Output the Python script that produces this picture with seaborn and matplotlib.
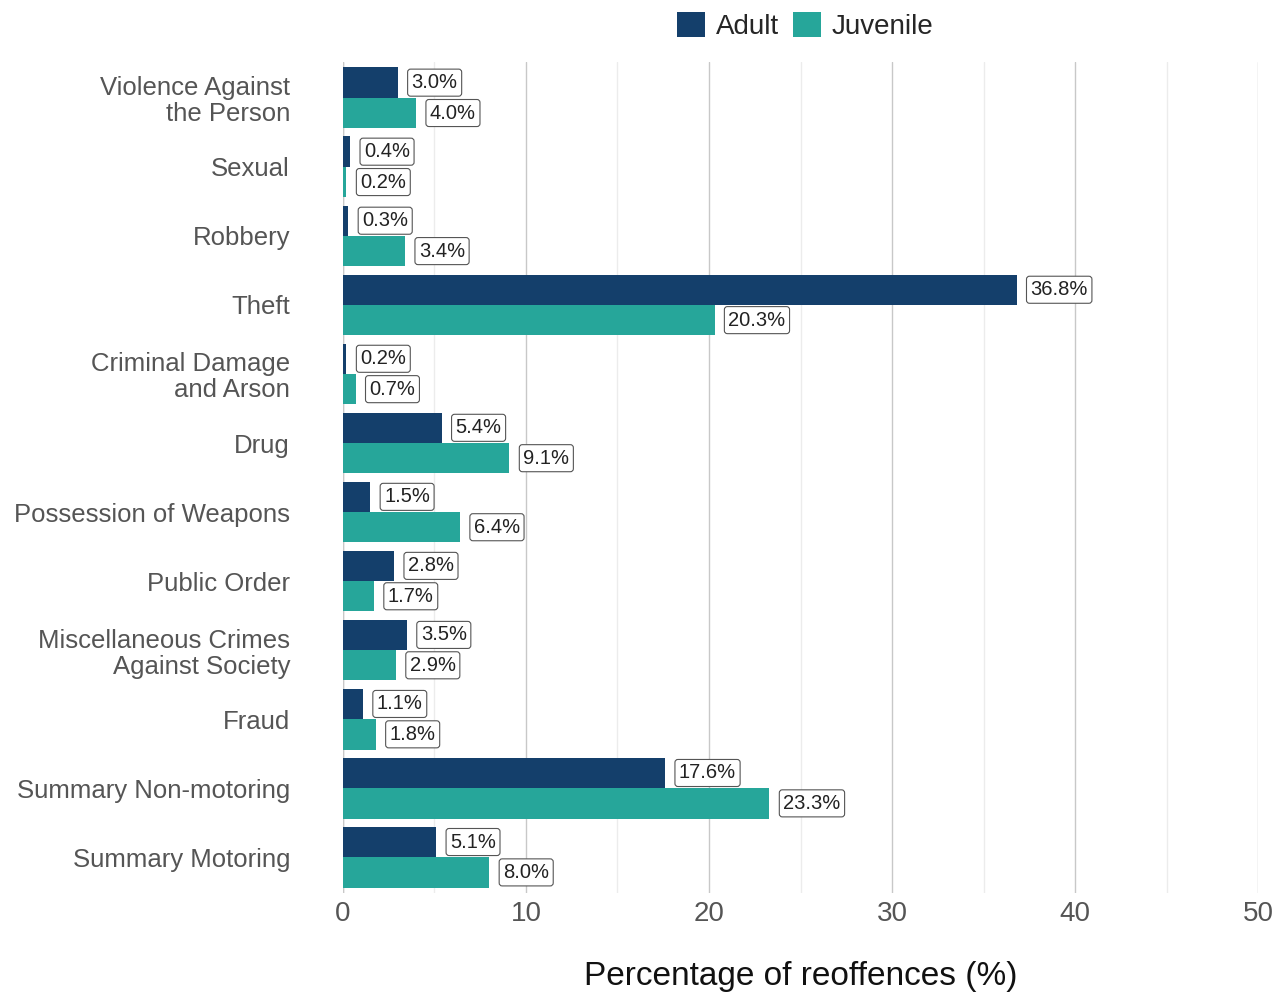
import matplotlib
matplotlib.use("Agg")
import matplotlib.pyplot as plt
import seaborn as sns
import pandas as pd
from matplotlib.ticker import MultipleLocator

categories = ["Violence Against\nthe Person", "Sexual", "Robbery", "Theft",
              "Criminal Damage\nand Arson", "Drug", "Possession of Weapons",
              "Public Order", "Miscellaneous Crimes\nAgainst Society", "Fraud",
              "Summary Non-motoring", "Summary Motoring"]
adult = [3.0, 0.4, 0.3, 36.8, 0.2, 5.4, 1.5, 2.8, 3.5, 1.1, 17.6, 5.1]
juvenile = [4.0, 0.2, 3.4, 20.3, 0.7, 9.1, 6.4, 1.7, 2.9, 1.8, 23.3, 8.0]
groups = ["Adult", "Juvenile"]
colors = ["#143f6b", "#26a69a"]

df = pd.DataFrame({
    "cat": categories * 2,
    "val": adult + juvenile,
    "grp": ["Adult"] * len(adult) + ["Juvenile"] * len(juvenile),
})

sns.set_theme(style="white")
plt.rcParams['font.family'] = ['Liberation Sans', 'DejaVu Sans']
fig = plt.figure(figsize=(12.84, 9.99), dpi=100)
ax = fig.add_axes([0.267, 0.106, 0.713, 0.832])
sns.barplot(data=df, y="cat", x="val", hue="grp", palette=colors,
            hue_order=groups, order=categories, orient="h", width=0.88,
            saturation=1, ax=ax, legend=True, linewidth=0)
ax.set_xlim(0, 50)
ax.set_ylim(11.52, -0.52)
ax.xaxis.set_major_locator(MultipleLocator(10))
ax.xaxis.set_minor_locator(MultipleLocator(5))
ax.grid(axis="x", which="major", color="#c8c8c8", lw=1)
ax.grid(axis="x", which="minor", color="#ececec", lw=1)
ax.set_axisbelow(True)
for s in ax.spines.values():
    s.set_visible(False)
ax.axvline(0, color="#c8c8c8", lw=1, zorder=0)
ax.tick_params(axis="y", length=0, labelsize=18.5, labelcolor="#555555", pad=38)
for t in ax.get_yticklabels():
    t.set_horizontalalignment("right")
    t.set_linespacing(1.1)
ax.tick_params(axis="x", length=0, labelsize=20, labelcolor="#555555", pad=6)
ax.set_ylabel("")
ax.set_xlabel("Percentage of reoffences (%)", fontsize=24, color="#111111", labelpad=24)

for cont in ax.containers:
    ax.bar_label(cont, labels=[f"{v:.1f}%" for v in cont.datavalues], padding=10,
                 fontsize=14.5, color="#222222",
                 bbox=dict(boxstyle="round,pad=0.2,rounding_size=0.15", fc="white", ec="#555555", lw=0.8))

ax.legend(loc="lower center", bbox_to_anchor=(0.505, 1.0), ncol=2, frameon=False,
          fontsize=20, handlelength=1, handleheight=1, handletextpad=0.4,
          columnspacing=0.5, borderaxespad=0.4)
fig.savefig("out.png", dpi=100)
